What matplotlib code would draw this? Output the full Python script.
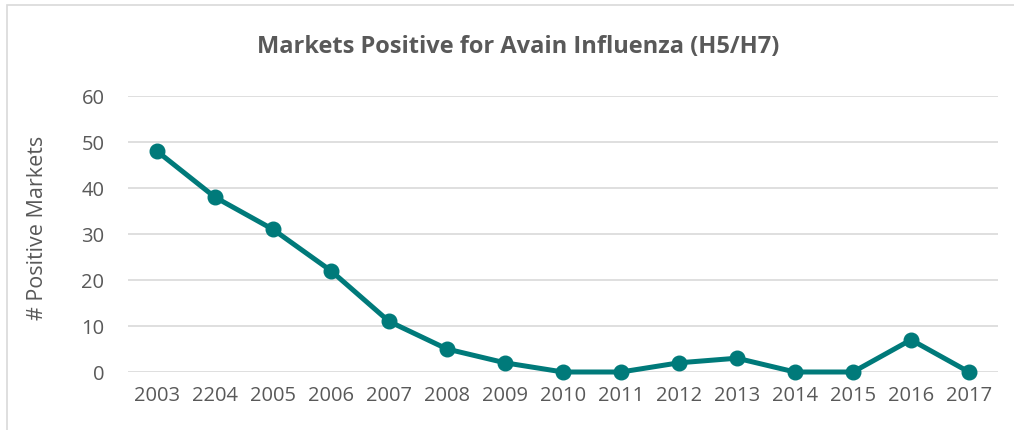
import matplotlib.pyplot as plt
from matplotlib.patches import Rectangle

years = ["2003", "2204", "2005", "2006", "2007", "2008", "2009", "2010",
         "2011", "2012", "2013", "2014", "2015", "2016", "2017"]
positive = [48, 38, 31, 22, 11, 5, 2, 0, 0, 2, 3, 0, 0, 7, 0]

plt.rcParams['font.family'] = ['Open Sans', 'DejaVu Sans']
grey = '#595959'

fig = plt.figure(figsize=(10.14, 4.30), dpi=100)
fig.patches.append(Rectangle((7 / 1014, -0.1), 1.1, 1 - 5 / 430 + 0.1,
                             transform=fig.transFigure, fill=False,
                             edgecolor='#d9d9d9', lw=1.2))
ax = fig.add_axes([128 / 1014, 1 - 372 / 430, 870 / 1014, 276 / 430])

x = range(len(years))
ax.plot(x, positive, color='#007a7a', lw=3.6, marker='o', ms=10.5,
        clip_on=False, zorder=3)

ax.set_xlim(-0.5, len(years) - 0.5)
ax.set_ylim(0, 60)
ax.set_yticks(range(0, 61, 10))
ax.set_xticks(list(x))
ax.set_xticklabels(years)
ax.grid(axis='y', color='#d9d9d9', lw=1.2)
ax.set_axisbelow(True)
for s in ax.spines.values():
    s.set_visible(False)
ax.tick_params(length=0, labelsize=14.5, labelcolor=grey, pad=10)
ax.tick_params(axis='y', pad=17)

fig.text(38 / 1014, 1 - 228 / 430, '# Positive Markets', rotation=90,
         ha='center', va='center', fontsize=15.5, color=grey)
fig.text(518 / 1014, 1 - 47 / 430, 'Markets Positive for Avain Influenza (H5/H7)',
         ha='center', va='center', fontsize=17, fontweight='bold', color=grey)

fig.savefig('out.png', dpi=100)
